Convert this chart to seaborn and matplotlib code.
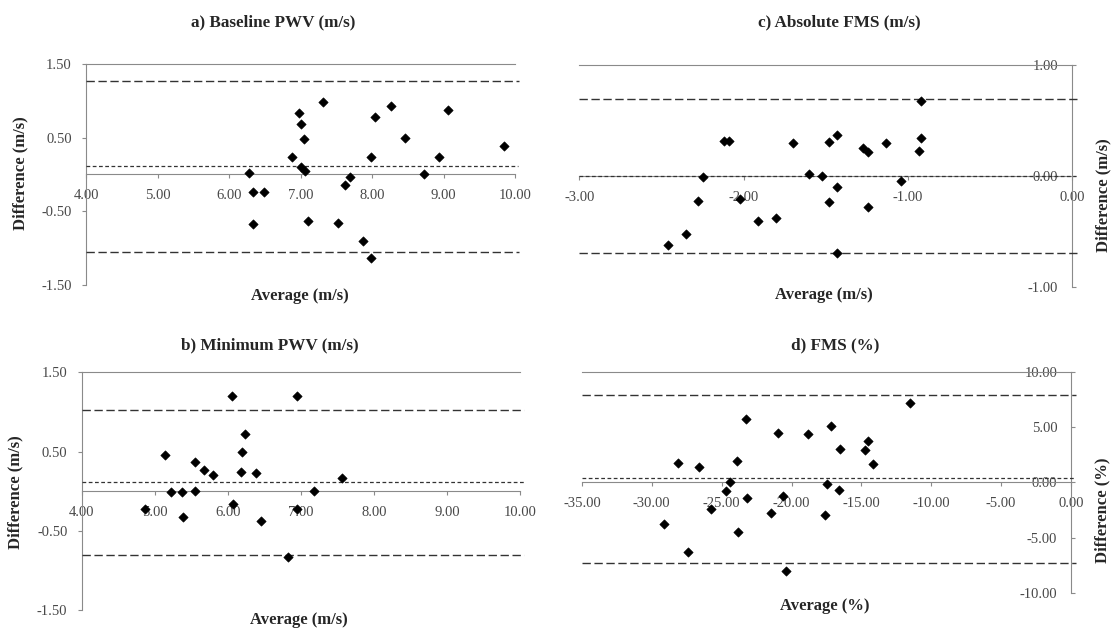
import matplotlib
matplotlib.use("Agg")
import matplotlib.pyplot as plt
import seaborn as sns
import pandas as pd

sns.set_style("white")
plt.rcParams['font.family'] = ['Liberation Serif', 'DejaVu Serif']

# ---------------- data ----------------
# a) Baseline PWV (m/s)
a_avg = [6.98, 7.01, 7.05, 7.32, 8.04, 8.26, 8.46, 9.06, 9.85, 6.88, 7.99, 8.94,
         6.28, 7.01, 7.06, 7.69, 7.62, 8.73, 6.33, 6.49, 6.33, 7.10, 7.52, 7.88, 7.98]
a_diff = [0.84, 0.68, 0.48, 0.98, 0.78, 0.93, 0.49, 0.87, 0.38, 0.23, 0.23, 0.23,
          0.02, 0.095, 0.05, -0.03, -0.14, 0.00, -0.245, -0.245, -0.67, -0.64, -0.66, -0.91, -1.14]
a_mean, a_upper, a_lower = 0.11, 1.27, -1.06

# b) Minimum PWV (m/s)
b_avg = [6.06, 6.95, 6.23, 6.19, 5.14, 5.55, 5.68, 5.79, 6.18, 6.39, 7.56, 5.22,
         5.37, 5.55, 7.18, 6.07, 4.86, 6.94, 5.38, 6.46, 6.83]
b_diff = [1.20, 1.20, 0.72, 0.49, 0.46, 0.37, 0.27, 0.20, 0.24, 0.23, 0.17, -0.01,
          -0.01, 0.00, 0.00, -0.16, -0.22, -0.22, -0.32, -0.38, -0.83]
b_mean, b_upper, b_lower = 0.11, 1.03, -0.81

# c) Absolute FMS (m/s)
c_avg = [-0.92, -2.12, -2.09, -1.70, -1.48, -1.43, -1.27, -1.24, -1.13, -0.92, -0.93,
         -2.25, -1.60, -1.52, -1.43, -1.04, -2.28, -2.02, -1.48, -1.24, -1.91, -1.80,
         -2.35, -2.46, -1.43]
c_diff = [0.68, 0.32, 0.32, 0.30, 0.31, 0.37, 0.255, 0.22, 0.30, 0.345, 0.225,
          -0.006, 0.02, 0.0, -0.10, -0.04, -0.22, -0.21, -0.23, -0.28, -0.40, -0.38,
          -0.52, -0.62, -0.69]
c_mean, c_upper, c_lower = 0.0, 0.69, -0.69

# d) FMS (%)
d_avg = [-11.52, -23.24, -20.96, -18.81, -17.16, -16.53, -14.76, -14.50, -14.15, -28.10,
         -26.65, -23.87, -24.43, -24.71, -17.47, -16.63, -23.16, -20.58, -25.74, -21.49,
         -17.59, -29.11, -23.80, -27.40, -20.38]
d_diff = [7.19, 5.72, 4.45, 4.36, 5.15, 3.03, 2.91, 3.73, 1.62, 1.71,
          1.40, 1.92, 0.02, -0.80, -0.19, -0.71, -1.46, -1.25, -2.45, -2.81,
          -2.97, -3.81, -4.48, -6.34, -8.04]
d_mean, d_upper, d_lower = 0.35, 7.89, -7.28

a_xticks = [4, 5, 6, 7, 8, 9, 10]
a_yticks = [1.5, 0.5, -0.5, -1.5]
c_xticks = [-3, -2, -1, 0]
c_yticks = [1.0, 0.0, -1.0]
d_xticks = [-35, -30, -25, -20, -15, -10, -5, 0]
d_yticks = [10, 5, 0, -5, -10]

# ---------------- figure ----------------
W, H = 1114, 628
fig = plt.figure(figsize=(W / 100, H / 100), dpi=100)
fig.patch.set_facecolor("white")

AXIS_GRAY = "#8a8a8a"
TICK_TXT = "#484848"
LINE_COL = "#333333"
TICK_FS = 10.5


def add_ax(x0, y0, x1, y1):
    return fig.add_axes([x0 / W, 1 - y1 / H, (x1 - x0) / W, (y1 - y0) / H])


def ftext(x, y, s, **kw):
    fig.text(x / W, 1 - y / H, s, ha="center", va="center", **kw)


def panel(ax, avg, diff, mean, upper, lower, xticks, yticks, side):
    df = pd.DataFrame({"avg": avg, "diff": diff})
    ax.axhline(upper, xmin=0, xmax=1.01, color=LINE_COL, lw=1.0,
               dashes=(6, 2.6), clip_on=False, zorder=3)
    ax.axhline(lower, xmin=0, xmax=1.01, color=LINE_COL, lw=1.0,
               dashes=(6, 2.6), clip_on=False, zorder=3)
    ax.axhline(mean, xmin=0, xmax=1.008, color=LINE_COL, lw=0.9,
               dashes=(3, 2), clip_on=False, zorder=3)
    sns.scatterplot(data=df, x="avg", y="diff", ax=ax, marker="D", color="black",
                    s=23, edgecolor="black", linewidth=0.4, zorder=5,
                    clip_on=False, legend=False)
    ax.set_xlim(xticks[0], xticks[-1])
    ax.set_ylim(yticks[-1], yticks[0])
    ax.set_xticks(xticks)
    ax.set_xticklabels([f"{t:.2f}" for t in xticks])
    ax.set_yticks(yticks)
    ax.set_yticklabels([f"{t:.2f}" for t in yticks])
    ax.set_xlabel("")
    ax.set_ylabel("")
    ax.set_facecolor("none")
    for s in ax.spines.values():
        s.set_color(AXIS_GRAY)
        s.set_linewidth(0.8)
    ax.spines["bottom"].set_position(("data", 0))
    ax.spines["top"].set_visible(True)
    ax.tick_params(axis="x", direction="out", length=3, width=0.8,
                   color=AXIS_GRAY, labelcolor=TICK_TXT, labelsize=TICK_FS, pad=7.5,
                   bottom=True)
    if side == "left":
        ax.spines["right"].set_visible(False)
        ax.spines["left"].set_visible(True)
        ax.tick_params(axis="y", direction="out", length=3, width=0.8,
                       color=AXIS_GRAY, labelcolor=TICK_TXT, labelsize=TICK_FS,
                       pad=7.3, left=True)
    else:
        ax.spines["left"].set_visible(False)
        ax.spines["right"].set_visible(True)
        ax.yaxis.tick_right()
        ax.tick_params(axis="y", direction="out", length=3, width=0.8,
                       color=AXIS_GRAY, labelcolor=TICK_TXT, labelsize=TICK_FS,
                       pad=-12.9, right=True)
        for lab in ax.get_yticklabels():
            lab.set_horizontalalignment("right")


ax_a = add_ax(86, 64, 515, 284.6)
panel(ax_a, a_avg, a_diff, a_mean, a_upper, a_lower, a_xticks, a_yticks, "left")

ax_b = add_ax(81.8, 372.3, 520, 610)
panel(ax_b, b_avg, b_diff, b_mean, b_upper, b_lower, a_xticks, a_yticks, "left")

ax_c = add_ax(579.4, 65, 1072, 287.3)
panel(ax_c, c_avg, c_diff, c_mean, c_upper, c_lower, c_xticks, c_yticks, "right")

ax_d = add_ax(581.9, 372, 1071, 592.7)
panel(ax_d, d_avg, d_diff, d_mean, d_upper, d_lower, d_xticks, d_yticks, "right")

TFS = 12.3
LFS = 12
ftext(273, 22.7, "a) Baseline PWV (m/s)", fontsize=TFS, fontweight="bold")
ftext(839, 22.7, "c) Absolute FMS (m/s)", fontsize=TFS, fontweight="bold")
ftext(270, 345, "b) Minimum PWV (m/s)", fontsize=TFS, fontweight="bold")
ftext(835, 345, "d) FMS (%)", fontsize=TFS, fontweight="bold")

ftext(300, 295.7, "Average (m/s)", fontsize=LFS, fontweight="bold")
ftext(824, 295, "Average (m/s)", fontsize=LFS, fontweight="bold")
ftext(299, 620.5, "Average (m/s)", fontsize=LFS, fontweight="bold")
ftext(825, 605.7, "Average (%)", fontsize=LFS, fontweight="bold")

ftext(20.5, 173, "Difference (m/s)", fontsize=LFS, fontweight="bold", rotation=90)
ftext(15.5, 492, "Difference (m/s)", fontsize=LFS, fontweight="bold", rotation=90)
ftext(1103, 195, "Difference (m/s)", fontsize=LFS, fontweight="bold", rotation=90)
ftext(1102, 510, "Difference (%)", fontsize=LFS, fontweight="bold", rotation=90)

fig.savefig("out.png", dpi=100, facecolor="white")
